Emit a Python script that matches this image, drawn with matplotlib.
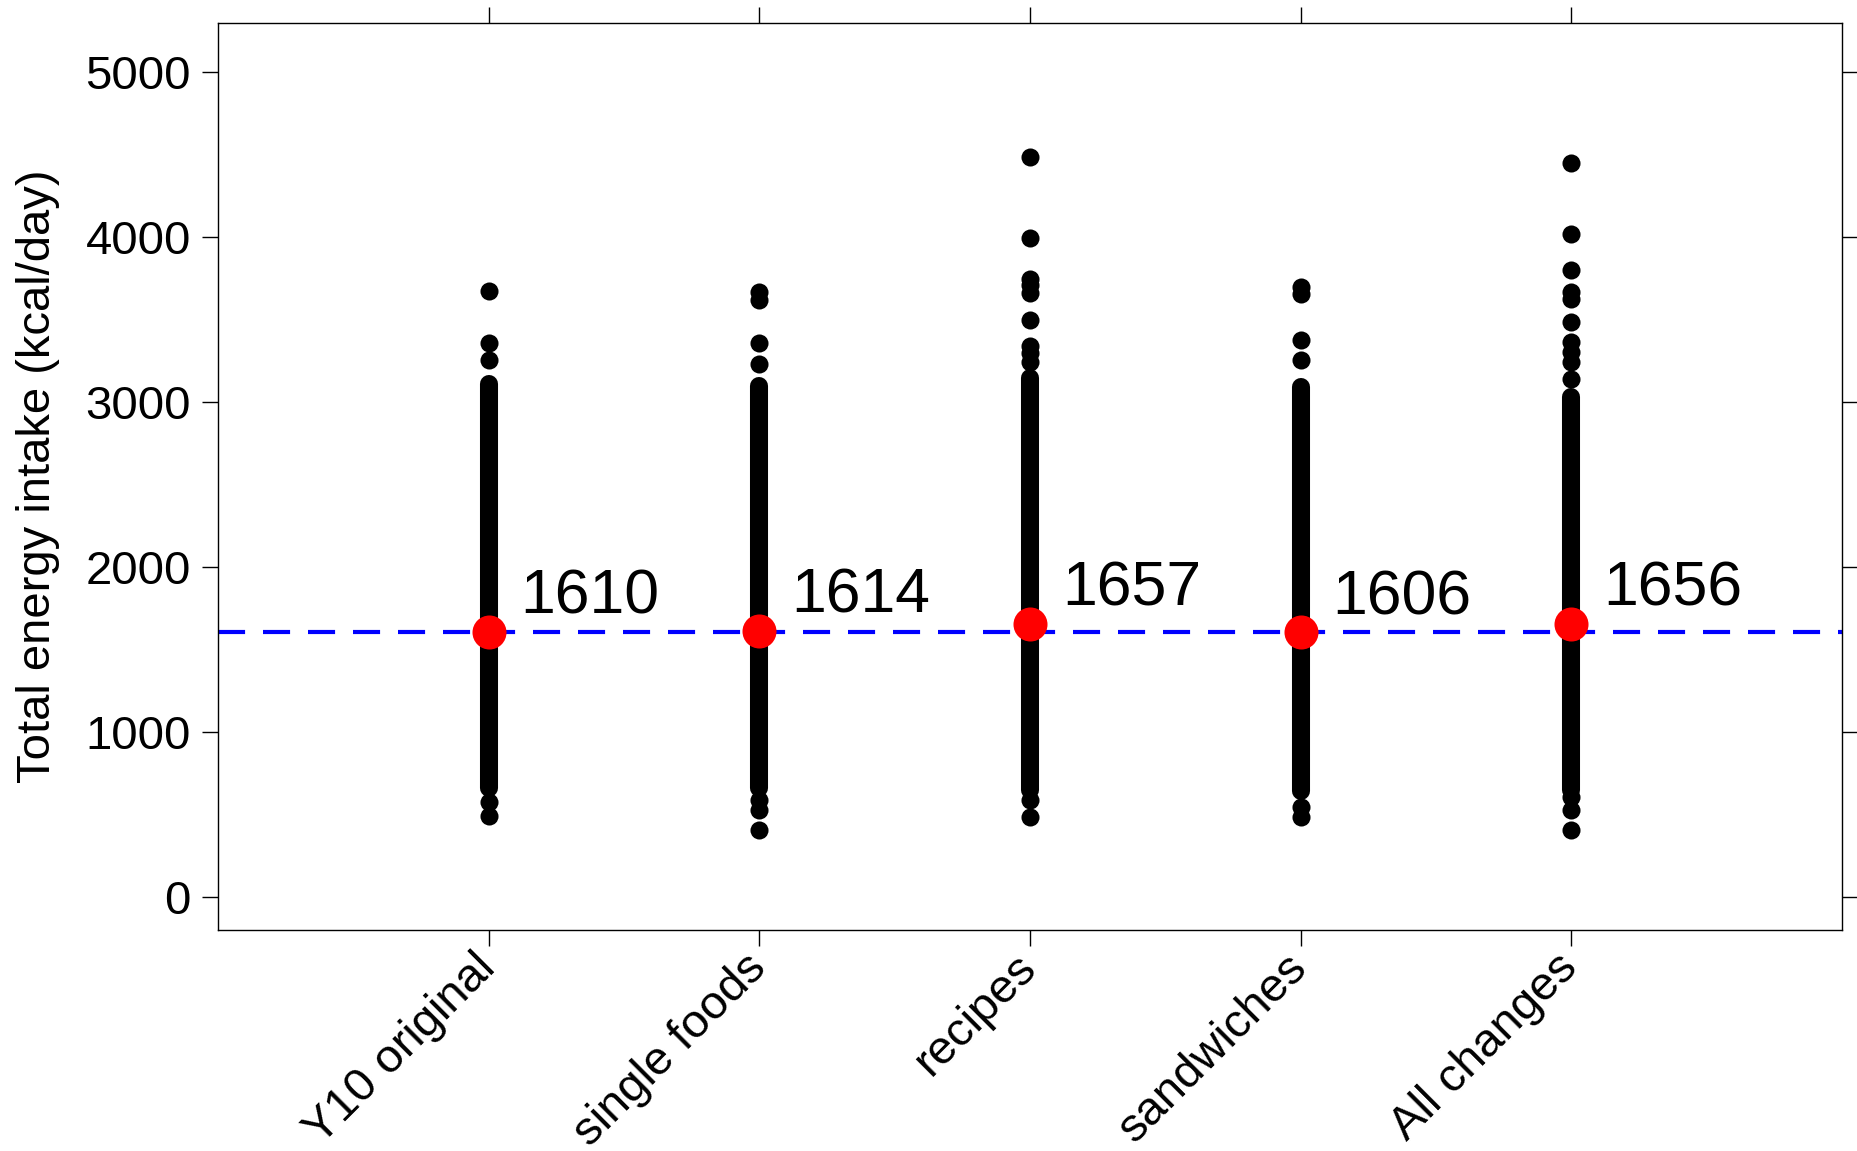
import numpy as np
import matplotlib
matplotlib.use('Agg')
import matplotlib.pyplot as plt

plt.rcParams['font.family'] = ['Liberation Sans', 'DejaVu Sans']

# energy intake per scenario (kcal/day)
groups = ['Y10 original', 'single foods', 'recipes', 'sandwiches', 'All changes']
means = [1610, 1614, 1657, 1606, 1656]

# span of the solid run of individual intakes in each strip
dense_low = [660, 660, 650, 640, 650]
dense_high = [3110, 3097, 3145, 3090, 3030]

# individual intakes outside the solid run
sparse_y10 = [3675, 3360, 3259, 577, 490]
sparse_single = [3668, 3622, 3359, 3230, 587, 527, 406]
sparse_recipes = [4490, 3998, 3750, 3710, 3665, 3497, 3341, 3300, 3244, 588, 486]
sparse_sandwich = [3699, 3655, 3376, 3259, 547, 486]
sparse_all = [4450, 4018, 3800, 3668, 3628, 3487, 3366, 3305, 3244, 3143, 607, 527, 406]
sparse = [sparse_y10, sparse_single, sparse_recipes, sparse_sandwich, sparse_all]

fig = plt.figure(figsize=(18.57, 11.51), dpi=100)
ax = fig.add_axes([0.1174, 0.192, 0.8745, 0.788])

pos = np.arange(1, len(groups) + 1)

# reference line at the original mean
ax.axhline(means[0], color='blue', lw=3, ls=(0, (6.5, 4.3)), zorder=1)

# solid runs of points
ax.vlines(pos, dense_low, dense_high, colors='black', linewidth=13,
          capstyle='round', zorder=2)
for p, vals in zip(pos, sparse):
    ax.plot([p] * len(vals), vals, 'o', color='black', ms=13, mew=0, zorder=2)

# means
ax.plot(pos, means, 'o', color='red', ms=24.5, mew=0, zorder=3)
for p, m in zip(pos, means):
    ax.annotate(str(m), (p, m), xytext=(23, 13), textcoords='offset points',
                ha='left', va='baseline', fontsize=45, zorder=4)

ax.set_xlim(0, 6)
ax.set_ylim(-200, 5300)
ax.set_xticks(pos)
ax.set_xticklabels(groups, rotation=45, ha='right', va='center',
                   rotation_mode='anchor')
ax.set_yticks([0, 1000, 2000, 3000, 4000, 5000])
ax.tick_params(direction='out', length=11.5, width=1.0, labelsize=34,
               top=True, right=True, pad=8)
ax.tick_params(axis='x', pad=11)
ax.set_ylabel('Total energy intake (kcal/day)', fontsize=34, labelpad=18)
for s in ax.spines.values():
    s.set_linewidth(1.0)

fig.savefig('out.png', dpi=100)
